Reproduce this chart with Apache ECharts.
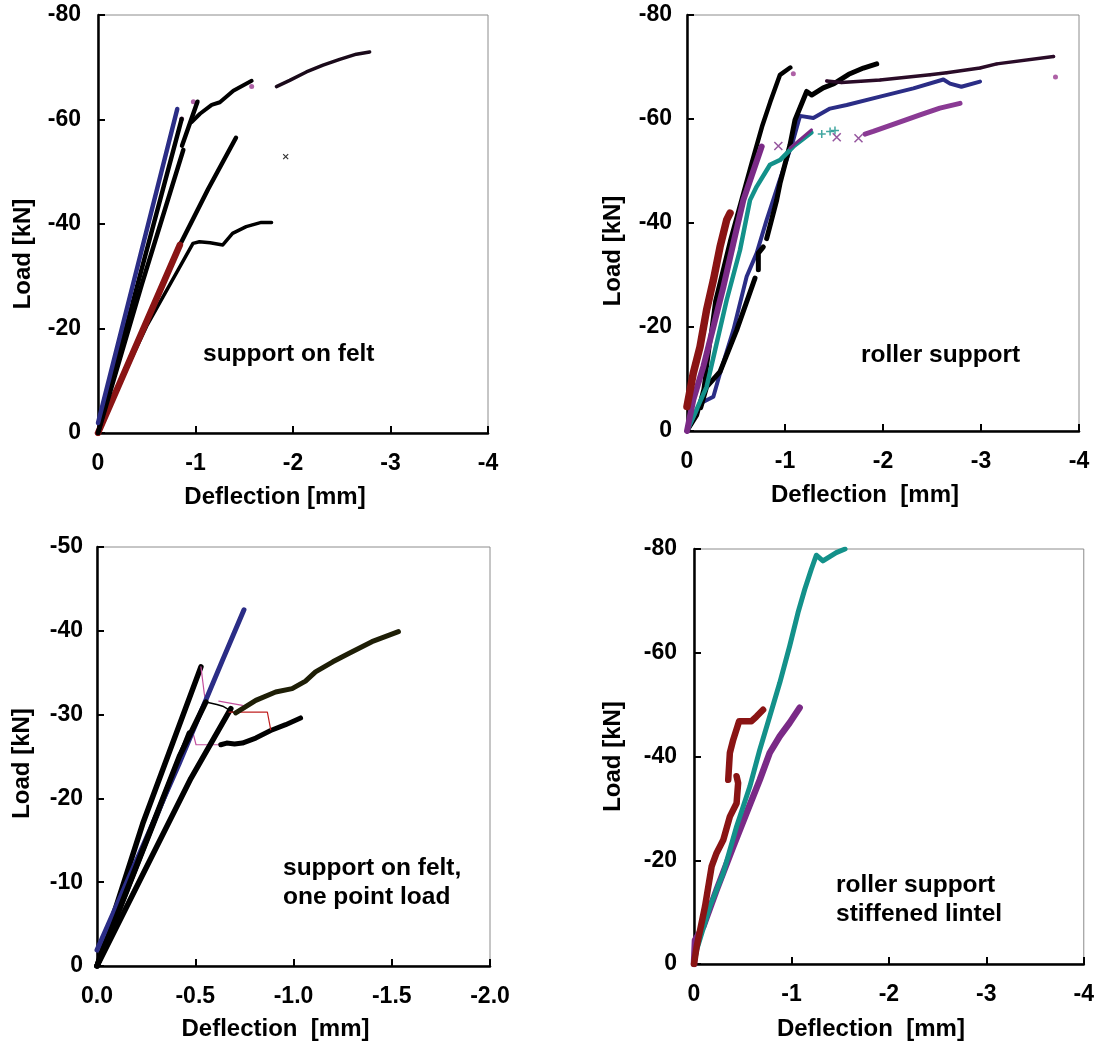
<!DOCTYPE html>
<html>
<head>
<meta charset="utf-8">
<script src="https://cdn.jsdelivr.net/npm/echarts@6/dist/echarts.min.js"></script>
<style>html,body{margin:0;padding:0;background:#fff;}#c{width:1097px;height:1051px;}</style>
</head>
<body>
<div id="c"></div>
<script>
// ---------- Panel 1: support on felt ----------
const p1Blue = [[0,-1.9],[-0.813,-62.0]];
const p1BlackA = [[0,0],[-0.858,-60.1]];
const p1BlackB = [[0,0],[-0.45,-28.5],[-0.875,-54.2]];
const p1BlackB2 = [[-0.862,-55.0],[-1.02,-63.4]];
const p1BlackC = [[-0.96,-59.5],[-1.046,-61.1],[-1.166,-62.8],[-1.25,-63.3],[-1.388,-65.5],[-1.576,-67.4]];
const p1BlackC2 = [[-1.83,-66.3],[-1.966,-67.5],[-2.137,-69.1],[-2.308,-70.4],[-2.479,-71.5],[-2.65,-72.5],[-2.786,-72.9]];
const p1BlackMid = [[0,0],[-0.84,-36.0],[-1.13,-46.7],[-1.415,-56.5]];
const p1Red = [[0,0],[-0.84,-36.0]];
const p1BlackX = [[0,0],[-0.256,-10.8],[-0.5,-20.5],[-0.974,-36.3],[-1.04,-36.6],[-1.15,-36.4],[-1.28,-36.0],[-1.38,-38.2],[-1.52,-39.5],[-1.675,-40.3],[-1.78,-40.3]];
const p1Stray = [[-1.925,-52.9]];
const p1Dots = [[-0.858,-60.1],[-0.978,-63.4],[-1.576,-66.3]];

// ---------- Panel 2: roller support ----------
const p2BlackL = [[0,0],[-0.1,-3],[-0.17,-8],[-0.29,-25],[-0.44,-36.5],[-0.55,-44],[-0.66,-51.5],[-0.765,-58.5],[-0.85,-63.3],[-0.949,-68.5],[-1.054,-69.9]];
const p2Blue = [[0,0],[-0.133,-5.3],[-0.269,-6.6],[-0.337,-11.1],[-0.473,-19.4],[-0.609,-29.7],[-0.711,-34.2],[-0.813,-40.6],[-0.935,-47.6],[-1.085,-56],[-1.153,-60.6],[-1.289,-60.2],[-1.459,-62],[-1.63,-62.7],[-1.97,-64.3],[-2.31,-65.9],[-2.616,-67.6],[-2.684,-66.8],[-2.8,-66.2],[-2.99,-67.2]];
const p2BlackR1 = [[-0.14,-4.5],[-0.2,-8.5],[-0.337,-11.4],[-0.507,-19.4],[-0.694,-29.4]];
const p2BlackR2 = [[-0.728,-31],[-0.728,-34.2],[-0.779,-35.4]];
const p2BlackR3 = [[-0.813,-37],[-0.915,-44.4],[-0.949,-47.6],[-1.051,-55],[-1.102,-59.8],[-1.221,-65.3],[-1.272,-64.6],[-1.39,-66.0],[-1.5,-66.8],[-1.65,-68.6],[-1.8,-69.8],[-1.936,-70.6]];
const p2Magenta = [[-1.426,-67.3],[-1.578,-67],[-1.97,-67.5],[-2.48,-68.5],[-2.65,-68.9],[-2.99,-69.8],[-3.16,-70.6],[-3.74,-72]];
const p2Dots = [[-1.085,-68.7],[-3.76,-68.1]];
const p2Red = [[0,-4.7],[-0.064,-11.1],[-0.133,-16.2],[-0.2,-23.3],[-0.269,-29],[-0.337,-35.4],[-0.405,-40.6],[-0.439,-41.9]];
const p2Teal = [[0,0],[-0.064,-2.7],[-0.2,-8.5],[-0.303,-16.9],[-0.405,-25.2],[-0.541,-34.8],[-0.643,-44.4],[-0.711,-47],[-0.847,-51.2],[-0.949,-52.1],[-1.085,-54.7],[-1.27,-57.4]];
const p2TealPlus = [[-1.375,-57.1],[-1.46,-57.6],[-1.51,-57.8]];
const p2Purple = [[0,0],[-0.064,-6],[-0.167,-12.4],[-0.269,-20],[-0.371,-27.7],[-0.473,-36.1],[-0.575,-44.4],[-0.762,-54.7]];
const p2PurpleB = [[-1.05,-54.4],[-1.15,-56],[-1.27,-57.9]];
const p2PurpleX = [[-0.932,-54.8],[-1.528,-56.5],[-1.75,-56.3]];
const p2PurpleC = [[-1.816,-57.1],[-1.9,-57.6],[-2.14,-59.2],[-2.378,-60.8],[-2.58,-62.1],[-2.786,-63]];

// ---------- Panel 3: support on felt, one point load ----------
const p3Black1 = [[0,0],[-0.233,-17],[-0.529,-35.7]];
const p3Pink1 = [[-0.529,-35.7],[-0.546,-32.5],[-0.554,-31.5]];
const p3Black2 = [[0,0],[-0.419,-25],[-0.554,-31.5]];
const p3Thin2 = [[-0.554,-31.5],[-0.61,-31.2],[-0.64,-31.0],[-0.698,-30.2]];
const p3PinkTop = [[-0.62,-31.6],[-0.74,-31.1]];
const p3Black3 = [[0,0],[-0.478,-22.4],[-0.681,-30.7]];
const p3Olive = [[-0.706,-30.2],[-0.808,-31.7],[-0.909,-32.7],[-0.993,-33.1],[-1.061,-34],[-1.112,-35.1],[-1.2,-36.3],[-1.281,-37.3],[-1.399,-38.7],[-1.534,-39.9]];
const p3Black4 = [[0,0],[-0.47,-27.8]];
const p3Pink4 = [[-0.47,-27.8],[-0.49,-27.7],[-0.504,-26.4],[-0.63,-26.4]];
const p3Black4b = [[-0.63,-26.4],[-0.66,-26.6],[-0.70,-26.5],[-0.74,-26.6],[-0.808,-27.2],[-0.884,-28.1],[-0.96,-28.8],[-1.036,-29.6]];
const p3Red = [[-0.672,-30.3],[-0.85,-30.3],[-0.867,-30.3],[-0.884,-28.2]];
const p3Blue = [[0,-1.9],[-0.419,-24.2],[-0.639,-36.5],[-0.748,-42.5]];

// ---------- Panel 4: roller support, stiffened lintel ----------
const p4Red1 = [[0,0],[-0.027,-3.3],[-0.113,-11.1],[-0.181,-18.8],[-0.232,-21.4],[-0.3,-23.9],[-0.368,-28.4],[-0.437,-31],[-0.453,-34.9],[-0.437,-36.2]];
const p4Red2 = [[-0.351,-35.5],[-0.368,-40.7],[-0.402,-43.2],[-0.463,-46.8],[-0.59,-46.8],[-0.641,-47.7],[-0.709,-49]];
const p4Teal = [[0,0],[-0.027,-2.7],[-0.164,-11.1],[-0.3,-17.5],[-0.437,-26.5],[-0.573,-34.2],[-0.675,-41.3],[-0.777,-47.7],[-0.88,-54.2],[-0.982,-61.3],[-1.067,-67.7],[-1.136,-72.2],[-1.204,-76.1],[-1.255,-78.8],[-1.323,-77.7],[-1.46,-79.3],[-1.55,-80]];
const p4Purple = [[0,0],[-0.01,-4.6],[-0.095,-7.2],[-0.232,-14.3],[-0.402,-22.6],[-0.539,-29.1],[-0.675,-35.5],[-0.777,-40.7],[-0.88,-43.9],[-0.982,-46.5],[-1.084,-49.4]];

// ---------- axis ticks ----------
const xTicksA = {min:-4, max:0, interval:1};
const xTicksB = {min:-2, max:0, interval:0.5};
const yTicksA = {min:-80, max:0, interval:20};
const yTicksB = {min:-50, max:0, interval:10};

const FONT = '"Liberation Sans", Arial, sans-serif';
const BLUE = '#2b2d86', RED = '#8a1414', PURPLE = '#7a2a86', TEAL = '#13918a', BLACK = '#000000', PINK = '#c4509e', MAG = '#9a3a90';
const XPATH = 'path://M0,0L10,10M10,0L0,10';
const PLUS = 'path://M5,0L5,10M0,5L10,5';

const grids = [
  {left:98, top:15, width:390, height:418},
  {left:687, top:15, width:392, height:416},
  {left:97, top:547, width:393, height:419},
  {left:694, top:549, width:391, height:415}
].map(g => Object.assign({show:true, borderColor:'#8c8c8c', borderWidth:1, backgroundColor:'transparent'}, g));

function xAx(i, t, nameGap, fmt, name) {
  return {
    type:'value', gridIndex:i, min:t.min, max:t.max, interval:t.interval, inverse:true,
    name:name, nameLocation:'middle', nameGap:nameGap,
    nameTextStyle:{fontFamily:FONT, fontWeight:'bold', fontSize:24, color:'#000', padding:[0,36,0,0]},
    axisLine:{show:true, onZero:false, lineStyle:{color:'#000', width:2.5}},
    axisTick:{show:true, inside:true, length:7, lineStyle:{color:'#000', width:2}},
    axisLabel:{fontFamily:FONT, fontWeight:'bold', fontSize:23, color:'#000', margin:19, formatter:fmt},
    splitLine:{show:false}
  };
}
function yAx(i, t, nameGap, margin, pad) {
  return {
    type:'value', gridIndex:i, min:t.min, max:t.max, interval:t.interval, inverse:true,
    name:'Load [kN]', nameLocation:'middle', nameGap:nameGap, nameRotate:90,
    nameTextStyle:{fontFamily:FONT, fontWeight:'bold', fontSize:24, color:'#000', padding:[0,pad,0,0]},
    axisLine:{show:true, onZero:false, lineStyle:{color:'#000', width:2.5}},
    axisTick:{show:true, inside:true, length:7, lineStyle:{color:'#000', width:2}},
    axisLabel:{fontFamily:FONT, fontWeight:'bold', fontSize:23, color:'#000', margin:margin},
    splitLine:{show:false}
  };
}
const fmtInt = v => String(v);
const fmtDec = v => v.toFixed(1);

function ln(data, gi, color, width, extra) {
  return Object.assign({
    type:'line', data:data, xAxisIndex:gi, yAxisIndex:gi, showSymbol:false, symbol:'none',
    smooth:false, animation:false, silent:true,
    lineStyle:{color:color, width:width, cap:'round', join:'round'}
  }, extra || {});
}
function pts(data, gi, color, symbol, size, bw) {
  return {type:'scatter', data:data, xAxisIndex:gi, yAxisIndex:gi, symbol:symbol, symbolSize:size,
    animation:false, silent:true,
    itemStyle:{color: bw ? 'rgba(0,0,0,0)' : color, borderColor:color, borderWidth: bw || 0}};
}

const series = [
  // panel 1
  ln(p1BlackX, 0, BLACK, 3.5),
  ln(p1BlackMid, 0, BLACK, 4.5),
  ln(p1Red, 0, RED, 6.5),
  ln(p1BlackB, 0, BLACK, 4.5),
  ln(p1BlackB2, 0, BLACK, 4.5),
  ln(p1BlackA, 0, BLACK, 4.5),
  ln(p1Blue, 0, BLUE, 4.5),
  ln(p1BlackC, 0, BLACK, 4),
  ln(p1BlackC2, 0, '#1a0a1a', 3.5),
  pts(p1Stray, 0, BLACK, XPATH, 5, 1.2),
  pts(p1Dots, 0, MAG, 'circle', 5),
  // panel 2
  ln(p2BlackL, 1, BLACK, 4.5),
  ln(p2Blue, 1, BLUE, 4),
  ln(p2BlackR1, 1, BLACK, 5),
  ln(p2BlackR2, 1, BLACK, 5),
  ln(p2BlackR3, 1, BLACK, 5),
  ln(p2Magenta, 1, '#2a0c28', 3.5),
  pts(p2Magenta, 1, MAG, 'circle', 3.5),
  pts(p2Dots, 1, MAG, 'circle', 5),
  ln(p2Teal, 1, TEAL, 4.5),
  pts(p2TealPlus, 1, TEAL, PLUS, 8, 1.5),
  ln(p2Purple, 1, PURPLE, 6),
  ln(p2PurpleB, 1, PURPLE, 3),
  pts(p2PurpleX, 1, PURPLE, XPATH, 8, 1.5),
  ln(p2PurpleC, 1, '#8a3a94', 5),
  ln(p2Red, 1, RED, 7.5),
  // panel 3
  ln(p3Black1, 2, BLACK, 5.5),
  ln(p3Pink1, 2, PINK, 1.2),
  ln(p3Black4, 2, BLACK, 5.5),
  ln(p3Pink4, 2, PINK, 1.2),
  ln(p3Black4b, 2, BLACK, 5),
  ln(p3Blue, 2, BLUE, 5),
  ln(p3Black2, 2, BLACK, 5.5),
  ln(p3Thin2, 2, BLACK, 1.5),
  ln(p3PinkTop, 2, PINK, 1.2),
  ln(p3Black3, 2, BLACK, 5.5),
  ln(p3Red, 2, '#c02020', 1.2),
  ln(p3Olive, 2, '#1e1e06', 5),
  // panel 4
  ln(p4Purple, 3, PURPLE, 6.5),
  ln(p4Teal, 3, TEAL, 5),
  ln(p4Red1, 3, RED, 6.5),
  ln(p4Red2, 3, RED, 6.5)
];

const txt = (text, x, y) => ({
  type:'text', left:x, top:y, silent:true,
  style:{text:text, font:'bold 24.5px ' + FONT, fill:'#000', lineHeight:29}
});

const option = {
  backgroundColor:'#fff',
  animation:false,
  grid: grids,
  xAxis: [
    xAx(0, xTicksA, 52, fmtInt, 'Deflection [mm]'),
    xAx(1, xTicksA, 52, fmtInt, 'Deflection  [mm]'),
    xAx(2, xTicksB, 51, fmtDec, 'Deflection  [mm]'),
    xAx(3, xTicksA, 53, fmtInt, 'Deflection  [mm]')
  ],
  yAxis: [
    yAx(0, yTicksA, 63, 17, 60),
    yAx(1, yTicksA, 62, 15, 56),
    yAx(2, yTicksB, 63, 14, 14),
    yAx(3, yTicksA, 69, 17, 0)
  ],
  series: series,
  graphic: [
    txt('support on felt', 203, 340),
    txt('roller support', 861, 341),
    txt('support on felt,\none point load', 283, 854),
    txt('roller support\nstiffened lintel', 836, 871)
  ]
};
echarts.init(document.getElementById('c'), null, {renderer:'canvas'}).setOption(option);
</script>
</body>
</html>
